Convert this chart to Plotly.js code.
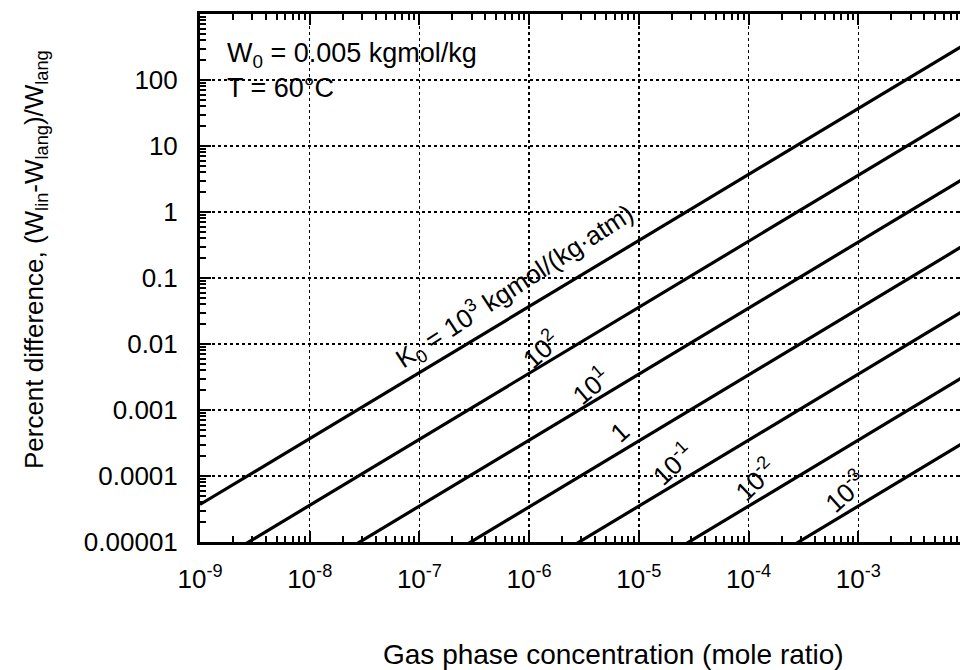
<!DOCTYPE html>
<html>
<head>
<meta charset="utf-8">
<script src="https://cdn.plot.ly/plotly-3.0.1.min.js"></script>
<style>
html,body{margin:0;padding:0;overflow:hidden;background:#fff;}
#chart{width:980px;height:670px;}
</style>
</head>
<body>
<div id="chart"></div>
<script>
// Gas phase concentration (mole ratio), one point per decade
const xConc = [1e-9, 1e-8, 1e-7, 1e-6, 1e-5, 1e-4, 1e-3, 1e-2];
// Percent difference for each K0 (kgmol/(kg·atm))
const yK1e3  = [3.7e-5, 3.7e-4, 3.7e-3, 3.7e-2, 0.37, 3.7, 37, 370];
const yK1e2  = [3.6e-6, 3.6e-5, 3.6e-4, 3.6e-3, 3.6e-2, 0.36, 3.6, 36];
const yK1e1  = [3.5e-7, 3.5e-6, 3.5e-5, 3.5e-4, 3.5e-3, 3.5e-2, 0.35, 3.5];
const yK1    = [3.4e-8, 3.4e-7, 3.4e-6, 3.4e-5, 3.4e-4, 3.4e-3, 3.4e-2, 0.34];
const yK1em1 = [3.5e-9, 3.5e-8, 3.5e-7, 3.5e-6, 3.5e-5, 3.5e-4, 3.5e-3, 3.5e-2];
const yK1em2 = [3.5e-10, 3.5e-9, 3.5e-8, 3.5e-7, 3.5e-6, 3.5e-5, 3.5e-4, 3.5e-3];
const yK1em3 = [3.5e-11, 3.5e-10, 3.5e-9, 3.5e-8, 3.5e-7, 3.5e-6, 3.5e-5, 3.5e-4];
const seriesY = [yK1e3, yK1e2, yK1e1, yK1, yK1em1, yK1em2, yK1em3];
const seriesNames = ["K0 = 10^3", "10^2", "10^1", "1", "10^-1", "10^-2", "10^-3"];

// curve labels and their positions (log10 x, log10 y)
const labelTexts = [
  "K<sub>0</sub> = 10<sup>3</sup> kgmol/(kg·atm)",
  "10<sup>2</sup>", "10<sup>1</sup>", "1",
  "10<sup>-1</sup>", "10<sup>-2</sup>", "10<sup>-3</sup>"
];
const labelX = [-6.13, -5.90, -5.44, -5.17, -4.69, -3.94, -3.12];
const labelY = [-1.12, -2.08, -2.63, -3.34, -3.81, -4.06, -4.24];
const labelAngle = [-33, -42, -40, -42, -43, -44, -42];

const xTickVals = [1e-9, 1e-8, 1e-7, 1e-6, 1e-5, 1e-4, 1e-3, 1e-2];
const xTickText = ["10<sup>-9</sup>","10<sup>-8</sup>","10<sup>-7</sup>","10<sup>-6</sup>","10<sup>-5</sup>","10<sup>-4</sup>","10<sup>-3</sup>","10<sup>-2</sup>"];
const yTickVals = [1e-5, 1e-4, 1e-3, 1e-2, 0.1, 1, 10, 100, 1000];
const yTickText = ["0.00001","0.0001","0.001","0.01","0.1","1","10","100",""];

const FONT = "Liberation Sans, Arial, Helvetica, sans-serif";

const traces = seriesY.map((ys, i) => ({
  x: xConc, y: ys, type: "scatter", mode: "lines", name: seriesNames[i],
  line: {color: "#000", width: 3.2}, hoverinfo: "skip"
}));

const annotations = labelTexts.map((t, i) => ({
  x: labelX[i], y: labelY[i], xref: "x", yref: "y", text: t, showarrow: false,
  textangle: labelAngle[i], xanchor: "center", yanchor: "middle",
  font: {family: FONT, size: 26, color: "#000"}
}));
annotations.push({
  x: -8.772, y: 2.66, xref: "x", yref: "y",
  text: "W<sub>0</sub> = 0.005 kgmol/kg<br>T = 60°C",
  showarrow: false, xanchor: "left", yanchor: "top", align: "left",
  font: {family: FONT, size: 27, color: "#000"}
});
// axis titles (placed as in the original figure)
annotations.push({
  x: 0.539, y: -0.214, xref: "paper", yref: "paper",
  text: "Gas phase concentration (mole ratio)", showarrow: false,
  xanchor: "center", yanchor: "middle",
  font: {family: FONT, size: 28, color: "#000"}
});
annotations.push({
  x: -0.2148, y: 0.534, xref: "paper", yref: "paper",
  text: "Percent difference, (W<sub>lin</sub>-W<sub>lang</sub>)/W<sub>lang</sub>", showarrow: false,
  textangle: -90, xanchor: "center", yanchor: "middle",
  font: {family: FONT, size: 26, color: "#000"}
});

const axisCommon = {
  type: "log", showline: true, linecolor: "#000", linewidth: 3, mirror: "allticks",
  ticks: "inside", ticklen: 11, tickwidth: 2, tickcolor: "#000",
  showgrid: true, gridcolor: "#000", gridwidth: 1.5, griddash: "dot",
  zeroline: false, tickmode: "array",
  tickfont: {family: FONT, size: 26, color: "#000"},
  minor: {dtick: "D1", ticks: "inside", ticklen: 6, tickwidth: 2, tickcolor: "#000", showgrid: false}
};

const layout = {
  width: 980, height: 670,
  margin: {l: 200, r: 12, t: 14, b: 128},
  paper_bgcolor: "#fff", plot_bgcolor: "#fff",
  showlegend: false,
  font: {family: FONT, color: "#000"},
  xaxis: Object.assign({}, axisCommon, {
    range: [-9, -2], tickvals: xTickVals, ticktext: xTickText,
    ticklabelstandoff: 12
  }),
  yaxis: Object.assign({}, axisCommon, {
    range: [-5, 3], tickvals: yTickVals, ticktext: yTickText,
    ticklabelstandoff: 14
  }),
  annotations: annotations
};

Plotly.newPlot("chart", traces, layout, {displayModeBar: false, staticPlot: true});
</script>
</body>
</html>
